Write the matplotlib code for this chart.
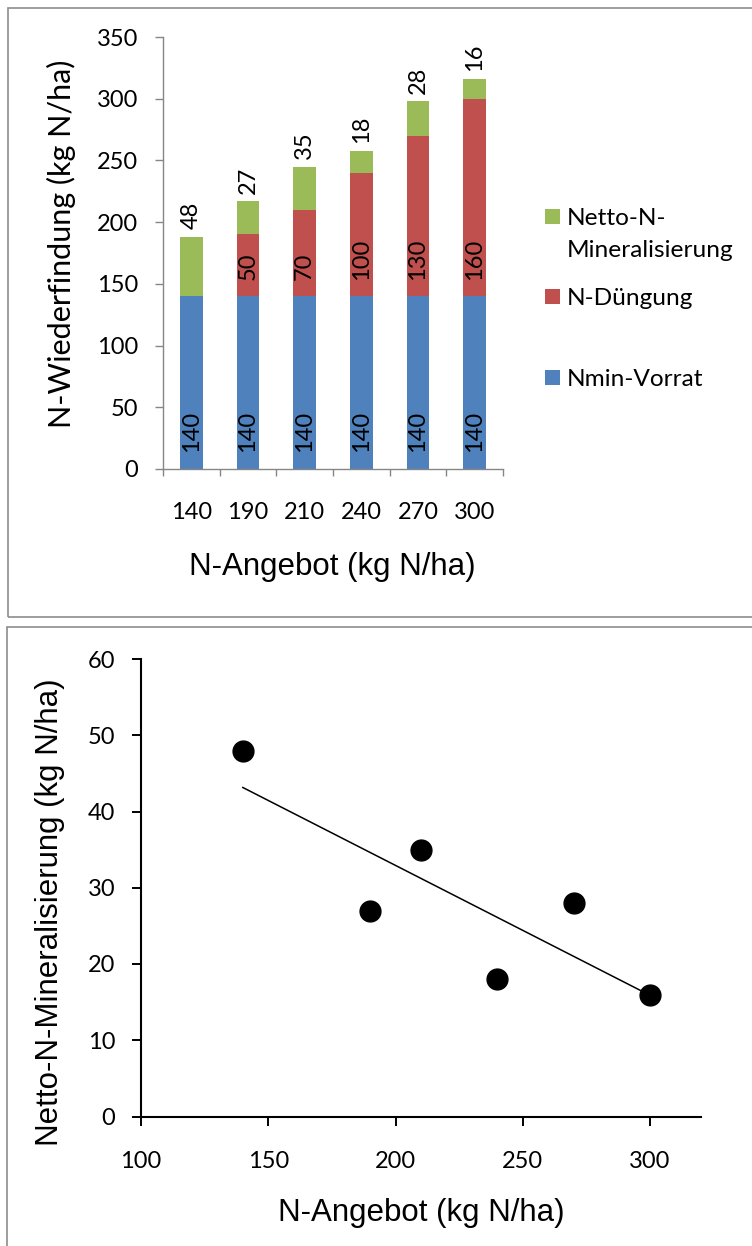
import numpy as np
import matplotlib.pyplot as plt
from matplotlib.patches import Rectangle

plt.rcParams['font.family'] = ['Lato', 'DejaVu Sans']

# data
angebot = [140, 190, 210, 240, 270, 300]
nmin = [140, 140, 140, 140, 140, 140]
duengung = [0, 50, 70, 100, 130, 160]
netto = [48, 27, 35, 18, 28, 16]
legend_labels = ['Netto-N-\nMineralisierung', 'N-Düngung', 'Nmin-Vorrat']
colors = ['#9BBB59', '#C0504D', '#4F81BD']

W, H = 752, 1246
fig = plt.figure(figsize=(W/100, H/100), dpi=100)

def fx(px):
    return px/W
def fy(py):
    return 1-py/H

# panel frames
fig.add_artist(Rectangle((fx(8), fy(617)), 2, (617-8.5)/H, transform=fig.transFigure,
                         fill=False, edgecolor='#8c8c8c', lw=1.2))
fig.add_artist(Rectangle((fx(7), -0.2), 2, 0.2+fy(627), transform=fig.transFigure,
                         fill=False, edgecolor='#8c8c8c', lw=1.2))

# ---- top: stacked bars
gray = '#868686'
ax1 = fig.add_axes([fx(163), fy(469), 340/W, 432/H])
x = np.arange(len(angebot))
bw = 0.4
base2 = np.array(nmin)
base3 = base2+np.array(duengung)
ax1.bar(x, nmin, bw, color=colors[2])
ax1.bar(x, duengung, bw, bottom=base2, color=colors[1])
ax1.bar(x, netto, bw, bottom=base3, color=colors[0])

fs = 17
for i in range(len(x)):
    ax1.annotate(str(nmin[i]), (x[i], 0), xytext=(0, 12), textcoords='offset points',
                 rotation=90, ha='center', va='bottom', fontsize=fs)
    if duengung[i] > 0:
        ax1.annotate(str(duengung[i]), (x[i], base2[i]), xytext=(0, 11.5), textcoords='offset points',
                     rotation=90, ha='center', va='bottom', fontsize=fs)
    ax1.annotate(str(netto[i]), (x[i], base3[i]+netto[i]), xytext=(0, 5.5), textcoords='offset points',
                 rotation=90, ha='center', va='bottom', fontsize=fs)

ax1.set_xlim(-0.5, len(x)-0.5)
ax1.set_ylim(0, 350)
ax1.set_yticks(range(0, 351, 50))
ax1.set_xticks(x, [str(a) for a in angebot])
ax1.set_xticks(np.arange(-0.5, len(x), 1), minor=True)
ax1.tick_params(axis='x', which='major', length=0, pad=24, labelsize=fs)
ax1.tick_params(axis='x', which='minor', length=5, color=gray, width=1)
ax1.tick_params(axis='y', length=5.8, color=gray, width=1, pad=12, labelsize=fs)
for s in ['top', 'right']:
    ax1.spines[s].set_visible(False)
for s in ['left', 'bottom']:
    ax1.spines[s].set_color(gray)
    ax1.spines[s].set_linewidth(1)

ax1.set_ylabel('N-Wiederfindung (kg N/ha)', fontsize=22)
ax1.yaxis.set_label_coords(-0.298, 0.521)
ax1.yaxis.label.set_va('center')
ax1.set_xlabel('N-Angebot (kg N/ha)', fontsize=22.5, family=['Liberation Sans'])
ax1.xaxis.set_label_coords(0.498, -0.227)
ax1.xaxis.label.set_va('center')

# legend (drawn by hand to match the layout)
lfs = 17.6
em = lfs*100/72
leg_y = [216.5, 296.5, 377]
for lab, col, yc in zip(legend_labels, colors, leg_y):
    fig.add_artist(Rectangle((fx(545), fy(yc+7.5)), 15/W, 15/H, transform=fig.transFigure,
                             color=col, lw=0))
    for k, line in enumerate(lab.split('\n')):
        fig.text(fx(567), fy(yc+32*k+0.358*em), line, fontsize=lfs, va='baseline', ha='left')

# ---- bottom: scatter with trend line
ax2 = fig.add_axes([fx(141), fy(1116.5), 560/W, 457.5/H])
ax2.plot(angebot, netto, 'o', color='black', markersize=15, zorder=3)
fit = np.polyfit(angebot, netto, 1)
xs = np.array([min(angebot), max(angebot)])
ax2.plot(xs, fit[0]*xs+fit[1], color='black', lw=1.1)
ax2.set_xlim(100, 320)
ax2.set_ylim(0, 60)
ax2.set_xticks(range(100, 301, 50))
ax2.set_yticks(range(0, 61, 10))
ax2.tick_params(axis='x', length=6.5, width=1.4, pad=18, labelsize=fs)
ax2.tick_params(axis='y', length=6.5, width=1.4, pad=12, labelsize=fs)
for s in ['top', 'right']:
    ax2.spines[s].set_visible(False)
for s in ['left', 'bottom']:
    ax2.spines[s].set_linewidth(1.5)

ax2.set_ylabel('Netto-N-Mineralisierung (kg N/ha)', fontsize=22.5, family=['Liberation Sans'])
ax2.yaxis.set_label_coords(-0.1625, 0.447)
ax2.yaxis.label.set_va('center')
ax2.set_xlabel('N-Angebot (kg N/ha)', fontsize=22.5, family=['Liberation Sans'])
ax2.xaxis.set_label_coords(0.5, -0.211)
ax2.xaxis.label.set_va('center')

fig.savefig('out.png', dpi=100)
